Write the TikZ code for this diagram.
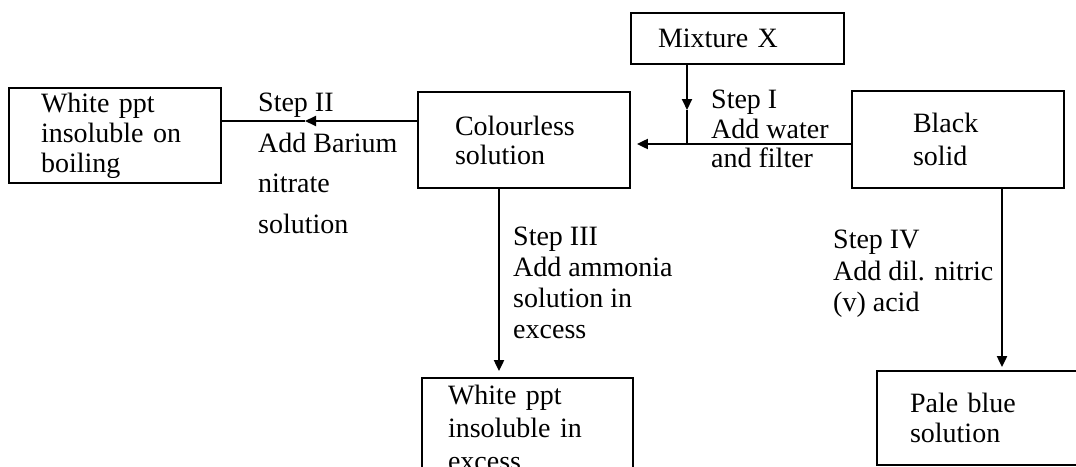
\documentclass[tikz,border=0pt]{standalone}
\usepackage{fontspec}
\setmainfont{Liberation Serif}
\usetikzlibrary{arrows.meta}
\begin{document}
\begin{tikzpicture}[x=1pt,y=-1pt,
  box/.style={draw, line width=1.8pt, inner ysep=0pt, align=left, font=\fontsize{28}{31}\selectfont},
  lbl/.style={anchor=north west, inner sep=0pt, align=left},
  arr/.style={line width=2pt, -{Triangle[length=11pt,width=10pt]}},
  con/.style={line width=2pt}]
\useasboundingbox (0,0) rectangle (1076,466);
\clip (0,0) rectangle (1076,466);
% boxes
\node[box, minimum height=51pt, inner xsep=27pt, text width=159pt] (mix) at (737.5,38.5) {Mixture X};
\node[box, minimum height=95pt, inner xsep=32pt, text width=148pt, font=\fontsize{28}{30}\selectfont] (left) at (115,135.5) {White ppt\\insoluble on\\boiling};
\node[box, minimum height=96pt, inner xsep=37pt, text width=138pt, font=\fontsize{28}{29}\selectfont] (col) at (524,140) {Colourless\\solution};
\node[box, minimum height=97pt, inner xsep=61pt, text width=90pt, font=\fontsize{28}{33}\selectfont] (black) at (958,139.5) {Black\\solid};
\node[box, minimum height=100pt, inner xsep=26pt, text width=159pt, font=\fontsize{28}{33}\selectfont] (wp) at (527.5,428) {White ppt\\insoluble in\\excess};
\node[box, minimum height=94pt, inner xsep=33pt, text width=146pt, font=\fontsize{28}{30}\selectfont] (pale) at (983,418) {Pale blue\\solution};
% labels
\node[lbl, font=\fontsize{28}{40.5}\selectfont] (l2) at (258,93) {Step II\\Add Barium\\nitrate\\solution};
\node[lbl, font=\fontsize{28}{29.5}\selectfont] (l1) at (711,90) {Step I\\Add water\\and filter};
\node[lbl, font=\fontsize{28}{31}\selectfont] (l3) at (513,227) {Step III\\Add ammonia\\solution in\\excess};
\node[lbl, font=\fontsize{28}{31.5}\selectfont] (l4) at (833,230) {Step IV\\Add dil. nitric\\(v) acid};
% connectors
\coordinate (m2) at (687,110);
\coordinate (j) at (687,144);
\draw[arr] (mix.south -| m2) -- (m2);
\draw[con] (m2) -- (j);
\draw[arr, shorten >=6pt] (black.west |- j) -- (col.east |- j);
\coordinate (t2) at (305,121);
\draw[arr] (col.west |- t2) -- (t2);
\draw[con] (t2) -- (left.east |- t2);
\coordinate (s3) at (499,372);
\draw[arr, shorten >=6pt] (col.south -| s3) -- (wp.north -| s3);
\coordinate (s4) at (1002,368);
\draw[arr, shorten >=3pt] (black.south -| s4) -- (pale.north -| s4);
\end{tikzpicture}
\end{document}
